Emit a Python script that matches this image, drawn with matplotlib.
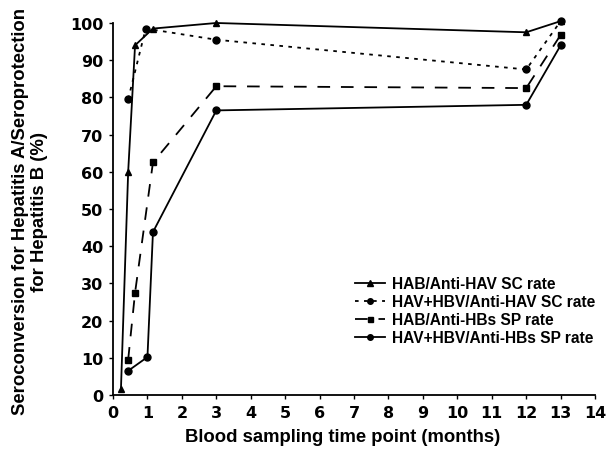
import matplotlib
matplotlib.use('Agg')
import matplotlib.pyplot as plt

plt.rcParams['font.family'] = ['Liberation Sans', 'DejaVu Sans']
plt.rcParams['font.weight'] = 'bold'

# time points (months) and rates (%)
hab_hav_x = [0.23, 0.44, 0.64, 1.16, 3, 12, 13]
hab_hav_y = [1.5, 60, 94, 98.5, 100, 97.5, 100.5]

combo_hav_x = [0.44, 0.95, 3, 12, 13]
combo_hav_y = [79.5, 98.5, 95.5, 87.5, 100.5]

hab_hbs_x = [0.44, 0.64, 1.16, 3, 12, 13]
hab_hbs_y = [9.5, 27.5, 62.5, 83, 82.5, 96.8]

combo_hbs_x = [0.44, 1.0, 1.16, 3, 12, 13]
combo_hbs_y = [6.5, 10.2, 43.8, 76.5, 78, 94]

labels = ['HAB/Anti-HAV SC rate', 'HAV+HBV/Anti-HAV SC rate',
          'HAB/Anti-HBs SP rate', 'HAV+HBV/Anti-HBs SP rate']

fig = plt.figure(figsize=(6.06, 4.56), dpi=100)
ax = fig.add_axes([0.1865, 0.1316, 0.7955, 0.8158])

ax.plot(hab_hav_x, hab_hav_y, '-', color='black', marker='^', ms=5, lw=1.3,
        clip_on=False, label=labels[0])
ax.plot(combo_hav_x, combo_hav_y, color='black', marker='o', ms=5, lw=1.3,
        linestyle=(0, (2, 3)), clip_on=False, label=labels[1])
ax.plot(hab_hbs_x, hab_hbs_y, color='black', marker='s', ms=4.5, lw=1.3,
        linestyle=(0, (7, 6)), clip_on=False, label=labels[2])
ax.plot(combo_hbs_x, combo_hbs_y, '-', color='black', marker='o', ms=5, lw=1.3,
        clip_on=False, label=labels[3])

ax.set_xlim(0, 14)
ax.set_ylim(0, 100)
ax.set_xticks(range(0, 15))
ax.set_yticks(range(0, 101, 10))
ax.spines['top'].set_visible(False)
ax.spines['right'].set_visible(False)
ax.spines['left'].set_linewidth(1.3)
ax.spines['bottom'].set_linewidth(1.3)
ax.tick_params(direction='out', length=3, width=1, labelsize=11.5, pad=4)
for t in ax.get_xticklabels() + ax.get_yticklabels():
    t.set_fontweight('bold')
    t.set_family('DejaVu Sans')

ax.set_xlabel('Blood sampling time point (months)', fontsize=13.3, fontweight='bold')
ax.xaxis.set_label_coords(0.477, -0.088)
ax.set_ylabel('Seroconversion for Hepatitis A/Seroprotection\nfor Hepatitis B (%)',
              fontsize=13.3, fontweight='bold', linespacing=1.2)
ax.yaxis.set_label_coords(-0.172, 0.495)
ax.yaxis.label.set_va('center')

leg = ax.legend(loc='upper left', bbox_to_anchor=(0.502, 0.32), frameon=False,
                fontsize=11.2, handlelength=1.9, handletextpad=0.45,
                labelspacing=0.2, borderaxespad=0, borderpad=0, markerscale=0.8)
for t in leg.get_texts():
    t.set_fontweight('bold')

plt.savefig('out.png', dpi=100)
